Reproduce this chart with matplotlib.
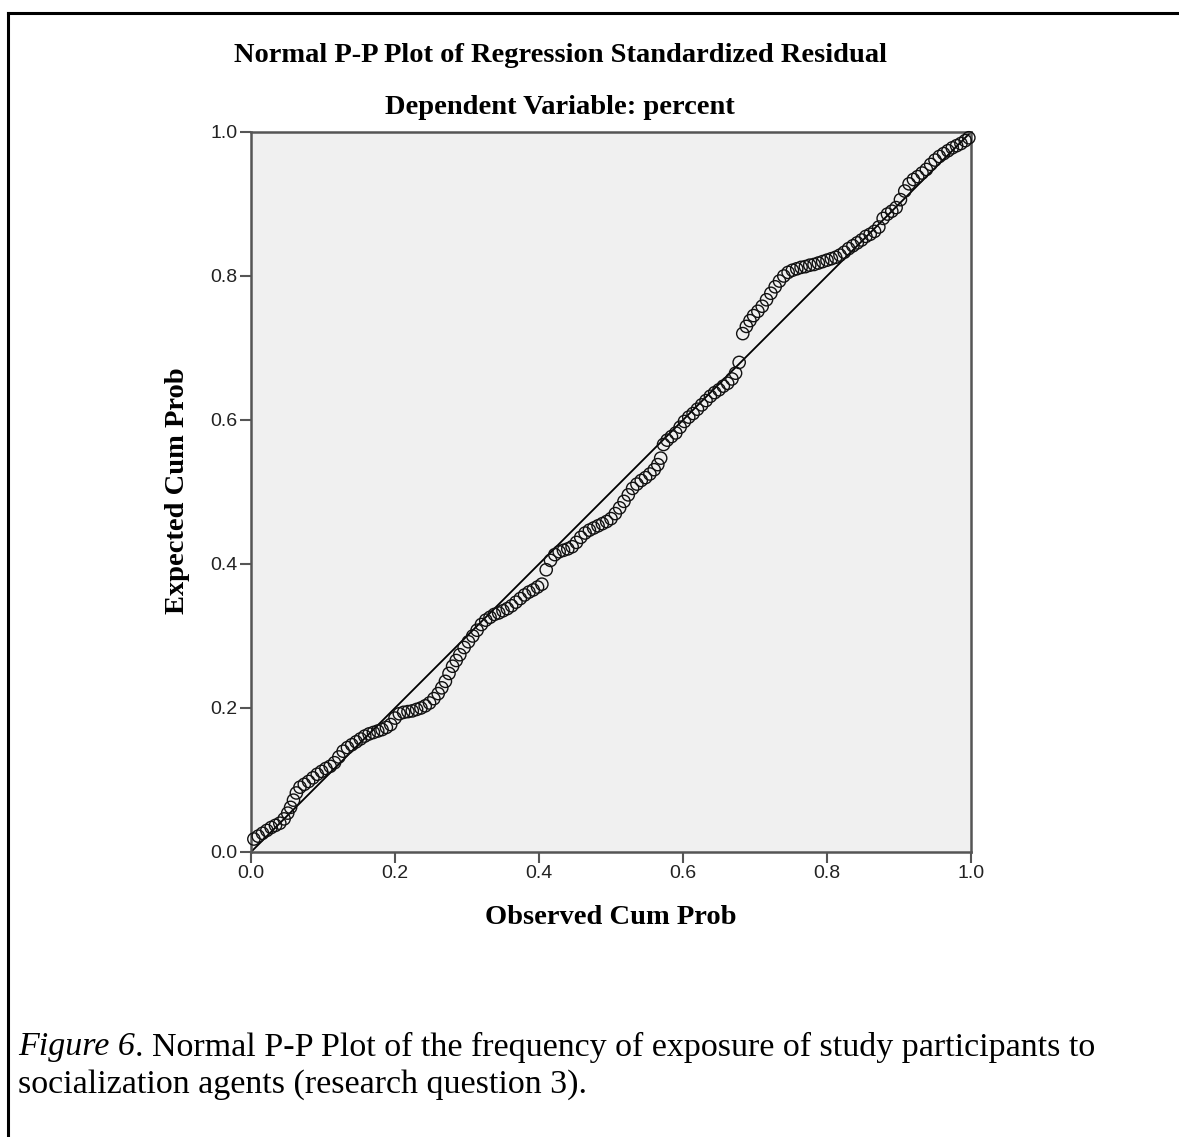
import matplotlib
matplotlib.use("Agg")
import matplotlib.pyplot as plt
from matplotlib.lines import Line2D

# ---- data ----
observed = [
    0.004, 0.010, 0.016, 0.022, 0.028, 0.034, 0.040, 0.046, 0.051, 0.055,
    0.059, 0.063, 0.068, 0.074, 0.080, 0.086, 0.092, 0.098,
    0.104, 0.110, 0.116, 0.122, 0.128, 0.134, 0.140, 0.146, 0.152, 0.158,
    0.164, 0.170, 0.176, 0.182, 0.188, 0.194, 0.200, 0.206,
    0.212, 0.218, 0.224, 0.230, 0.236, 0.242, 0.248, 0.254, 0.260, 0.265,
    0.270, 0.275, 0.280, 0.285, 0.290, 0.296, 0.302, 0.308,
    0.314, 0.320, 0.326, 0.332, 0.338, 0.344, 0.350, 0.356, 0.362, 0.368,
    0.374, 0.380, 0.386, 0.392, 0.398, 0.404, 0.410, 0.416,
    0.422, 0.428, 0.434, 0.440, 0.446, 0.452, 0.458, 0.464, 0.470, 0.476,
    0.482, 0.488, 0.494, 0.500, 0.506, 0.512, 0.518, 0.524,
    0.530, 0.536, 0.542, 0.548, 0.554, 0.560, 0.565, 0.569, 0.573, 0.578,
    0.584, 0.590, 0.596, 0.602, 0.608, 0.614, 0.620, 0.626,
    0.632, 0.638, 0.644, 0.650, 0.656, 0.662, 0.668, 0.673, 0.678, 0.683,
    0.688, 0.693, 0.698, 0.704, 0.710, 0.716, 0.722, 0.728,
    0.734, 0.740, 0.746, 0.752, 0.758, 0.764, 0.770, 0.776, 0.782, 0.788,
    0.794, 0.800, 0.806, 0.812, 0.818, 0.824, 0.830, 0.836,
    0.842, 0.848, 0.854, 0.860, 0.866, 0.872, 0.878, 0.884, 0.890, 0.896,
    0.902, 0.908, 0.914, 0.920, 0.926, 0.932, 0.938, 0.944, 0.950, 0.956,
    0.962, 0.968, 0.974, 0.980, 0.986, 0.992, 0.997,
]
expected = [
    0.018, 0.022, 0.026, 0.030, 0.034, 0.037, 0.040, 0.046, 0.054, 0.062,
    0.072, 0.082, 0.090, 0.094, 0.098, 0.103, 0.108, 0.112,
    0.116, 0.119, 0.124, 0.132, 0.140, 0.145, 0.149, 0.153, 0.157, 0.161,
    0.164, 0.166, 0.168, 0.170, 0.173, 0.177, 0.186, 0.192,
    0.194, 0.195, 0.196, 0.198, 0.200, 0.203, 0.207, 0.213, 0.220, 0.228,
    0.237, 0.248, 0.258, 0.266, 0.274, 0.284, 0.292, 0.300,
    0.308, 0.316, 0.322, 0.326, 0.330, 0.332, 0.335, 0.338, 0.342, 0.347,
    0.352, 0.357, 0.361, 0.364, 0.368, 0.372, 0.392, 0.405,
    0.413, 0.417, 0.419, 0.421, 0.424, 0.430, 0.437, 0.443, 0.447, 0.450,
    0.453, 0.456, 0.459, 0.463, 0.470, 0.478, 0.487, 0.496,
    0.505, 0.511, 0.516, 0.520, 0.525, 0.531, 0.538, 0.547, 0.566, 0.572,
    0.577, 0.582, 0.590, 0.598, 0.604, 0.609, 0.615, 0.621,
    0.627, 0.633, 0.638, 0.642, 0.647, 0.651, 0.657, 0.665, 0.680, 0.720,
    0.730, 0.738, 0.745, 0.751, 0.758, 0.767, 0.776, 0.785,
    0.793, 0.800, 0.805, 0.808, 0.810, 0.812, 0.813, 0.815, 0.816, 0.818,
    0.820, 0.822, 0.824, 0.826, 0.829, 0.833, 0.838, 0.842,
    0.846, 0.850, 0.855, 0.858, 0.862, 0.868, 0.880, 0.886, 0.890, 0.895,
    0.906, 0.918, 0.928, 0.934, 0.938, 0.943, 0.948, 0.955, 0.961, 0.966,
    0.970, 0.974, 0.978, 0.981, 0.984, 0.988, 0.992,
]
ref_line = [0.0, 1.0]
tick_values = [0.0, 0.2, 0.4, 0.6, 0.8, 1.0]
tick_labels = ["0.0", "0.2", "0.4", "0.6", "0.8", "1.0"]

title_text = "Normal P-P Plot of Regression Standardized Residual"
subtitle_text = "Dependent Variable: percent"
xlabel_text = "Observed Cum Prob"
ylabel_text = "Expected Cum Prob"
caption_italic = "Figure 6"
caption_line1 = ". Normal P-P Plot of the frequency of exposure of study participants to"
caption_line2 = "socialization agents (research question 3)."

W, H = 1179, 1137
fig = plt.figure(figsize=(W / 100, H / 100), dpi=100)
fig.patch.set_facecolor("white")

ax = fig.add_axes([251 / W, 1 - 852 / H, 720 / W, 720 / H])
ax.set_facecolor("#f0f0f0")
ax.plot(ref_line, ref_line, color="black", lw=1.3, zorder=2)
ax.scatter(observed, expected, s=78, facecolors="none", edgecolors="#111111",
           linewidths=1.0, zorder=3, clip_on=False)
ax.set_xlim(0, 1)
ax.set_ylim(0, 1)
ax.set_xticks(tick_values)
ax.set_xticklabels(tick_labels)
ax.set_yticks(tick_values)
ax.set_yticklabels(tick_labels)
for s in ax.spines.values():
    s.set_color("#555555")
    s.set_linewidth(1.8)
ax.tick_params(direction="out", length=8, width=1.5, color="#555555",
               labelsize=14, pad=1.5, labelcolor="#222222")
for lab in ax.get_xticklabels() + ax.get_yticklabels():
    lab.set_fontfamily("Liberation Sans")

serif = "Liberation Serif"
fig.text(560 / W, 1 - 55 / H, title_text, ha="center", va="center",
         fontsize=20.5, fontweight="bold", family=serif)
fig.text(560 / W, 1 - 108 / H, subtitle_text, ha="center", va="center",
         fontsize=20.5, fontweight="bold", family=serif)
fig.text(611 / W, 1 - 917 / H, xlabel_text, ha="center", va="center",
         fontsize=20.5, fontweight="bold", family=serif)
fig.text(177 / W, 1 - 491 / H, ylabel_text, ha="center", va="center",
         rotation=90, fontsize=20.5, fontweight="bold", family=serif)

# caption
cap_fs = 24.5
t1 = fig.text(18 / W, 1 - 1047 / H, caption_italic, ha="left", va="center",
              fontsize=cap_fs, style="italic", family=serif)
fig.canvas.draw()
bb = t1.get_window_extent(renderer=fig.canvas.get_renderer())
fig.text(bb.x1 / W, 1 - 1047 / H, caption_line1, ha="left", va="center",
         fontsize=cap_fs, family=serif)
fig.text(18 / W, 1 - 1085 / H, caption_line2, ha="left", va="center",
         fontsize=cap_fs, family=serif)

# page frame (top and left)
fig.add_artist(Line2D([8 / W, 1.0], [1 - 13 / H, 1 - 13 / H],
                      transform=fig.transFigure, color="black", lw=2.2))
fig.add_artist(Line2D([8 / W, 8 / W], [1 - 13 / H, 0.0],
                      transform=fig.transFigure, color="black", lw=2.2))

fig.savefig("out.png", dpi=100, facecolor="white")
